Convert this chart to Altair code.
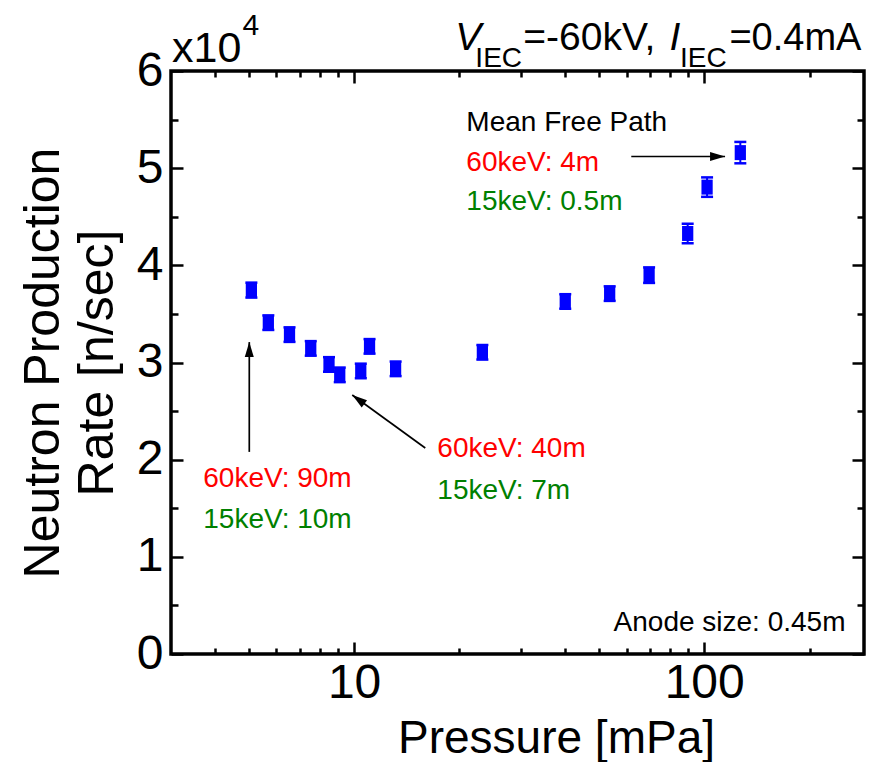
import altair as alt
import pandas as pd

# ---------------- data ----------------
pressure = [5.09, 5.69, 6.54, 7.52, 8.48, 9.10, 10.45, 11.07, 13.14,
            23.25, 40.1, 53.7, 69.6, 89.7, 101.9, 126.8]          # mPa
rate = [3.745, 3.41, 3.287, 3.145, 2.98, 2.873, 2.913, 3.166, 2.935,
        3.105, 3.628, 3.709, 3.899, 4.328, 4.805, 5.16]          # x1e4 n/sec
err = [0.077, 0.075, 0.075, 0.075, 0.075, 0.075, 0.075, 0.075, 0.075,
       0.075, 0.075, 0.075, 0.08, 0.10, 0.10, 0.11]

x_domain = [3, 286]
y_domain = [0, 6]
x_major = [10, 100]
x_minor = [4, 5, 6, 7, 8, 9, 20, 30, 40, 50, 60, 70, 80, 90, 200]
y_major = [0, 1, 2, 3, 4, 5, 6]
y_minor = [0.5, 1.5, 2.5, 3.5, 4.5, 5.5]

# arrows: (x start, y start) -> (x tip, y tip), angle of head
arrow_x1 = [5.02, 15.97, 61.9]
arrow_y1 = [2.08, 2.12, 5.12]
arrow_x2 = [5.02, 9.88, 114.7]
arrow_y2 = [3.21, 2.665, 5.12]
arrow_angle = [0, 306, 90]

# annotations (left / baseline anchored, in data units)
ann_text = ["Mean Free Path", "60keV: 4m", "15keV: 0.5m",
            "60keV: 90m", "15keV: 10m", "60keV: 40m", "15keV: 7m"]
ann_x = [20.92, 20.92, 20.92, 3.71, 3.71, 17.29, 17.29]
ann_y = [5.38, 4.97, 4.57, 1.72, 1.30, 2.03, 1.60]
ann_color = ["black", "#ff0000", "#008000", "#ff0000", "#008000", "#ff0000", "#008000"]

FONT = "Liberation Sans"
W, H = 693, 583
BLUE = "#0000ff"

xs = alt.Scale(type="log", domain=x_domain, nice=False)
ys = alt.Scale(domain=y_domain, nice=False, zero=False)

df = pd.DataFrame({"p": pressure, "r": rate, "e": err})
df["lo"] = df["r"] - df["e"]
df["hi"] = df["r"] + df["e"]
caps = pd.DataFrame({"p": pressure + pressure,
                     "c": [r - e for r, e in zip(rate, err)] + [r + e for r, e in zip(rate, err)]})

allx = sorted(x_major + x_minor)
ally = sorted(y_major + y_minor)
xtick_size = {"condition": {"test": "datum.value == 10 || datum.value == 100", "value": 12}, "value": 6}
ytick_size = {"condition": {"test": "datum.value % 1 == 0", "value": 12}, "value": 7}


def tick_axis(orient, offset, values, size):
    return alt.Axis(orient=orient, offset=offset, values=values, labels=False,
                    domain=False, grid=False, title=None, ticks=True,
                    tickSize=size, tickWidth=2.5, tickColor="black")


# layer A: error bar line + label axes
bars = alt.Chart(df).mark_rule(color=BLUE, strokeWidth=2).encode(
    x=alt.X("p:Q", scale=xs, axis=alt.Axis(
        orient="bottom", values=x_major, format="d", ticks=False, domain=False,
        grid=False, labelFont=FONT, labelFontSize=48, labelColor="black",
        labelPadding=5, title="Pressure [mPa]", titleFont=FONT, titleFontSize=46,
        titleFontWeight="normal", titleColor="black", titleX=385, titleY=98,
        titleAlign="center", titleBaseline="alphabetic")),
    y=alt.Y("lo:Q", scale=ys, axis=alt.Axis(
        orient="left", values=y_major, format="d", ticks=False, domain=False,
        grid=False, labelFont=FONT, labelFontSize=48, labelColor="black",
        labelPadding=8, title=["Neutron Production", "Rate [n/sec]"],
        titleFont=FONT, titleFontSize=50, titleFontWeight="normal",
        titleColor="black", titleAngle=-90, titleX=-113, titleY=H / 2,
        titleAlign="center", titleBaseline="alphabetic", titleLineHeight=54)),
    y2="hi:Q",
)

# layer B: caps + inward ticks on bottom and left
capmark = alt.Chart(caps).mark_tick(color=BLUE, orient="horizontal", size=12,
                                     thickness=2.5, opacity=1).encode(
    x=alt.X("p:Q", scale=xs, axis=tick_axis("top", -H, allx, xtick_size)),
    y=alt.Y("c:Q", scale=ys, axis=tick_axis("right", -W, ally, ytick_size)),
)

# layer C: markers + inward ticks on top and right
rect_path = "M-0.75,-1 L0.75,-1 L0.75,1 L-0.75,1 Z"
points = alt.Chart(df).mark_point(shape=rect_path, filled=True, size=225,
                                  color=BLUE, opacity=1).encode(
    x=alt.X("p:Q", scale=xs, axis=tick_axis("bottom", -H, allx, xtick_size)),
    y=alt.Y("r:Q", scale=ys, axis=tick_axis("left", -W, ally, ytick_size)),
)

# arrows
arr = pd.DataFrame({"x1": arrow_x1, "y1": arrow_y1, "x2": arrow_x2,
                    "y2": arrow_y2, "a": arrow_angle})
arrow_lines = alt.Chart(arr).mark_rule(color="black", strokeWidth=1.7).encode(
    x=alt.X("x1:Q", scale=xs, axis=None), y=alt.Y("y1:Q", scale=ys, axis=None),
    x2="x2:Q", y2="y2:Q")
head_path = "M0,0 L-0.6,2 L0.6,2 Z"
arrow_heads = alt.Chart(arr).mark_point(shape=head_path, filled=True, size=225,
                                        color="black", opacity=1).encode(
    x=alt.X("x2:Q", scale=xs, axis=None), y=alt.Y("y2:Q", scale=ys, axis=None),
    angle=alt.Angle("a:Q", scale=None))

ann = pd.DataFrame({"t": ann_text, "x": ann_x, "y": ann_y, "c": ann_color})
ann_layer = alt.Chart(ann).mark_text(align="left", baseline="alphabetic",
                                     font=FONT, fontSize=28).encode(
    x=alt.X("x:Q", scale=xs, axis=None), y=alt.Y("y:Q", scale=ys, axis=None),
    text="t:N", color=alt.Color("c:N", scale=None))


def txt(s, x, y, size, align="left", italic=False, color="black"):
    d = pd.DataFrame({"t": [s], "x": [x], "y": [y]})
    return alt.Chart(d).mark_text(
        align=align, baseline="alphabetic", font=FONT, fontSize=size,
        color=color, fontStyle="italic" if italic else "normal").encode(
        x=alt.X("x:Q", scale=xs, axis=None), y=alt.Y("y:Q", scale=ys, axis=None),
        text="t:N")


extras = [
    txt("Anode size: 0.45m", 253.2, 0.237, 28, align="right"),
    txt("x10", 3.02, 6.09, 43),
    txt("4", 4.80, 6.368, 30),
    txt("V", 19.46, 6.214, 39, italic=True),
    txt("IEC", 22.2, 6.039, 28),
    txt("=-60kV,", 30.44, 6.214, 39),
    txt("I", 79.6, 6.214, 39, italic=True),
    txt("IEC", 85.3, 6.039, 28),
    txt("=0.4mA", 118.0, 6.214, 38),
]

chart = alt.layer(bars, capmark, points, arrow_lines, arrow_heads, ann_layer,
                  *extras).resolve_axis(x="independent", y="independent").properties(
    width=W, height=H,
    autosize=alt.AutoSizeParams(type="none"),
    padding={"left": 163, "top": 63, "right": 2, "bottom": 108},
).configure(background="white",
            view=alt.ViewConfig(stroke="black", strokeWidth=3.5))

chart.save("out.html", embed_options={"renderer": "svg", "actions": False})
